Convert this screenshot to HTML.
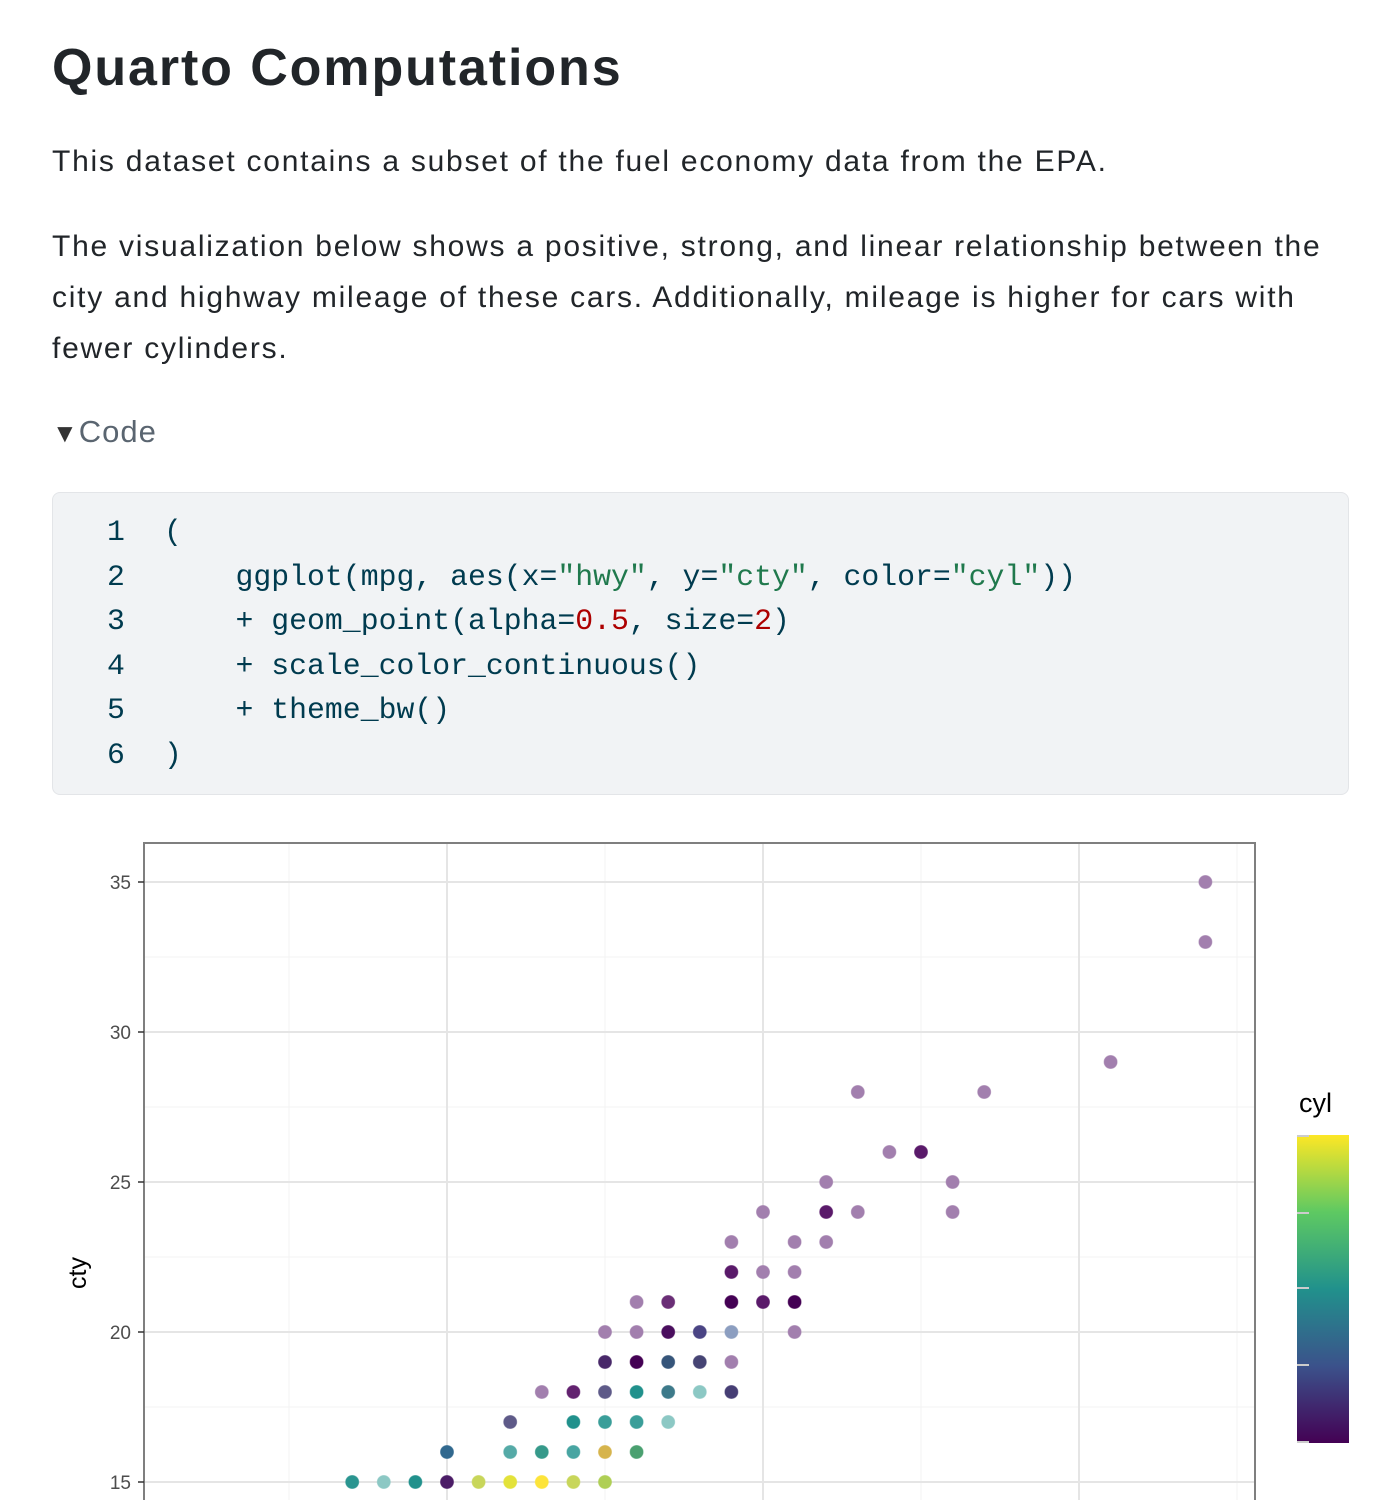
<!DOCTYPE html>
<html><head><meta charset="utf-8">
<style>
body{margin:0;width:1400px;height:1500px;overflow:hidden;background:#fff;font-family:"Liberation Sans",sans-serif;color:#212529;position:relative}
.a{position:absolute;white-space:nowrap}
h1{position:absolute;left:52px;top:36px;margin:0;font-size:52px;font-weight:bold;line-height:64px;letter-spacing:1.9px}
.p{font-size:30px;line-height:51px;left:52px;letter-spacing:1.75px}
.code{position:absolute;left:52px;top:492px;width:1297px;height:303px;background:#f1f3f5;border:1px solid #e3e5e8;border-radius:8px;box-sizing:border-box}
.code pre{margin:0;position:absolute;top:17px;font-family:"Liberation Mono",monospace;font-size:29.8px;line-height:44.6px;color:#003b4f}
.s{color:#20794d}.n{color:#ad0000}
</style></head><body>
<h1>Quarto Computations</h1>
<div class="a p" style="top:136px">This dataset contains a subset of the fuel economy data from the EPA.</div>
<div class="a p" style="top:221px">The visualization below shows a positive, strong, and linear relationship between the<br>city and highway mileage of these cars. Additionally, mileage is higher for cars with<br>fewer cylinders.</div>
<div class="a" style="left:52px;top:414px;font-size:31px;color:#5a6570;letter-spacing:1px"><span style="font-size:26px;color:#333">&#9660;</span>Code</div>
<div class="code">
<pre style="left:54px;text-align:right">1
2
3
4
5
6</pre>
<pre style="left:111px">(
    ggplot(mpg, aes(x=<span class="s">"hwy"</span>, y=<span class="s">"cty"</span>, color=<span class="s">"cyl"</span>))
    + geom_point(alpha=<span class="n">0.5</span>, size=<span class="n">2</span>)
    + scale_color_continuous()
    + theme_bw()
)</pre>
</div>
<svg class="a" style="left:0;top:0" width="1400" height="1500" font-family="Liberation Sans, sans-serif">
<defs><linearGradient id="v" x1="0" y1="1" x2="0" y2="0">
<stop offset="0" stop-color="#440154"/><stop offset="0.25" stop-color="#3b528b"/><stop offset="0.5" stop-color="#21918c"/><stop offset="0.75" stop-color="#5ec962"/><stop offset="1" stop-color="#fde725"/></linearGradient></defs>
<g stroke="#f3f3f3" stroke-width="1">
<line x1="145" x2="1254" y1="957" y2="957"/><line x1="145" x2="1254" y1="1107" y2="1107"/><line x1="145" x2="1254" y1="1257" y2="1257"/><line x1="145" x2="1254" y1="1407" y2="1407"/>
<line x1="289" x2="289" y1="844" y2="1500"/><line x1="605" x2="605" y1="844" y2="1500"/><line x1="921" x2="921" y1="844" y2="1500"/><line x1="1237" x2="1237" y1="844" y2="1500"/>
</g>
<g stroke="#e5e5e5" stroke-width="2">
<line x1="145" x2="1254" y1="882" y2="882"/><line x1="145" x2="1254" y1="1032" y2="1032"/><line x1="145" x2="1254" y1="1182" y2="1182"/><line x1="145" x2="1254" y1="1332" y2="1332"/><line x1="145" x2="1254" y1="1482" y2="1482"/>
<line x1="447" x2="447" y1="844" y2="1500"/><line x1="763" x2="763" y1="844" y2="1500"/><line x1="1079" x2="1079" y1="844" y2="1500"/>
</g>
<rect x="144" y="843" width="1111" height="700" fill="none" stroke="#7f7f7f" stroke-width="2"/>
<g stroke="#333" stroke-width="1.5"><line x1="138" x2="144" y1="882" y2="882"/><line x1="138" x2="144" y1="1032" y2="1032"/><line x1="138" x2="144" y1="1182" y2="1182"/><line x1="138" x2="144" y1="1332" y2="1332"/><line x1="138" x2="144" y1="1482" y2="1482"/></g>
<g font-size="19" fill="#4d4d4d" text-anchor="end"><text x="131" y="889">35</text><text x="131" y="1039">30</text><text x="131" y="1189">25</text><text x="131" y="1339">20</text><text x="131" y="1489">15</text></g>
<text transform="translate(86,1273) rotate(-90)" font-size="25" text-anchor="middle" fill="#000">cty</text>
<text x="1299" y="1112" font-size="27" fill="#000">cyl</text>
<rect x="1297" y="1135" width="52" height="308" fill="url(#v)"/>
<g stroke="#ccc" stroke-width="2"><line x1="1297" x2="1309" y1="1136" y2="1136"/><line x1="1297" x2="1309" y1="1213" y2="1213"/><line x1="1297" x2="1309" y1="1288" y2="1288"/><line x1="1297" x2="1309" y1="1365" y2="1365"/><line x1="1297" x2="1309" y1="1442" y2="1442"/></g>
<g id="pts"></g>
</svg>
<script>
var d=[
[17,15,"#2a9590"],[18,15,"#8cc8c4"],[19,15,"#21918c"],[20,15,"#4b1c66"],[21,15,"#c8d65a"],[22,15,"#e3e23a"],[23,15,"#fde43a"],[24,15,"#c8d65a"],[25,15,"#afcf55"],
[20,16,"#31688e"],[22,16,"#55aaa7"],[23,16,"#36998a"],[24,16,"#48a5a2"],[25,16,"#d6b44c"],[26,16,"#4aa070"],
[22,17,"#5e5a88"],[24,17,"#21918c"],[25,17,"#3a9e99"],[26,17,"#3a9e99"],[27,17,"#8cc8c4"],
[23,18,"#a27fae"],[24,18,"#62226f"],[25,18,"#5e5a88"],[26,18,"#21918c"],[27,18,"#3d7a8a"],[28,18,"#8cc8c4"],[29,18,"#463e74"],
[25,19,"#482869"],[26,19,"#440154"],[27,19,"#36557a"],[28,19,"#464474"],[29,19,"#a27fae"],
[25,20,"#a27fae"],[26,20,"#a27fae"],[27,20,"#4a0e5e"],[28,20,"#4a4484"],[29,20,"#8c9ec0"],[31,20,"#a27fae"],
[26,21,"#a27fae"],[27,21,"#6a2e76"],[29,21,"#440154"],[30,21,"#5a1a6a"],[31,21,"#440154"],
[29,22,"#5a1a6a"],[30,22,"#a27fae"],[31,22,"#a27fae"],
[29,23,"#a27fae"],[31,23,"#a27fae"],[32,23,"#a27fae"],
[30,24,"#a27fae"],[32,24,"#5a1a6a"],[33,24,"#a27fae"],[36,24,"#a27fae"],
[32,25,"#a27fae"],[36,25,"#a27fae"],[34,26,"#a27fae"],[35,26,"#5a1a6a"],
[33,28,"#a27fae"],[37,28,"#a27fae"],[41,29,"#a27fae"],[44,33,"#a27fae"],[44,35,"#a27fae"]];
var g=document.getElementById("pts"),s="";
d.forEach(function(p){var x=447+(p[0]-20)*31.6,y=1482-(p[1]-15)*30;
s+='<circle cx="'+x.toFixed(1)+'" cy="'+y+'" r="6.5" fill="'+p[2]+'" stroke="'+p[2]+'" stroke-width="1" stroke-opacity="0.6"/>';});
g.innerHTML=s;
</script>
</body></html>
